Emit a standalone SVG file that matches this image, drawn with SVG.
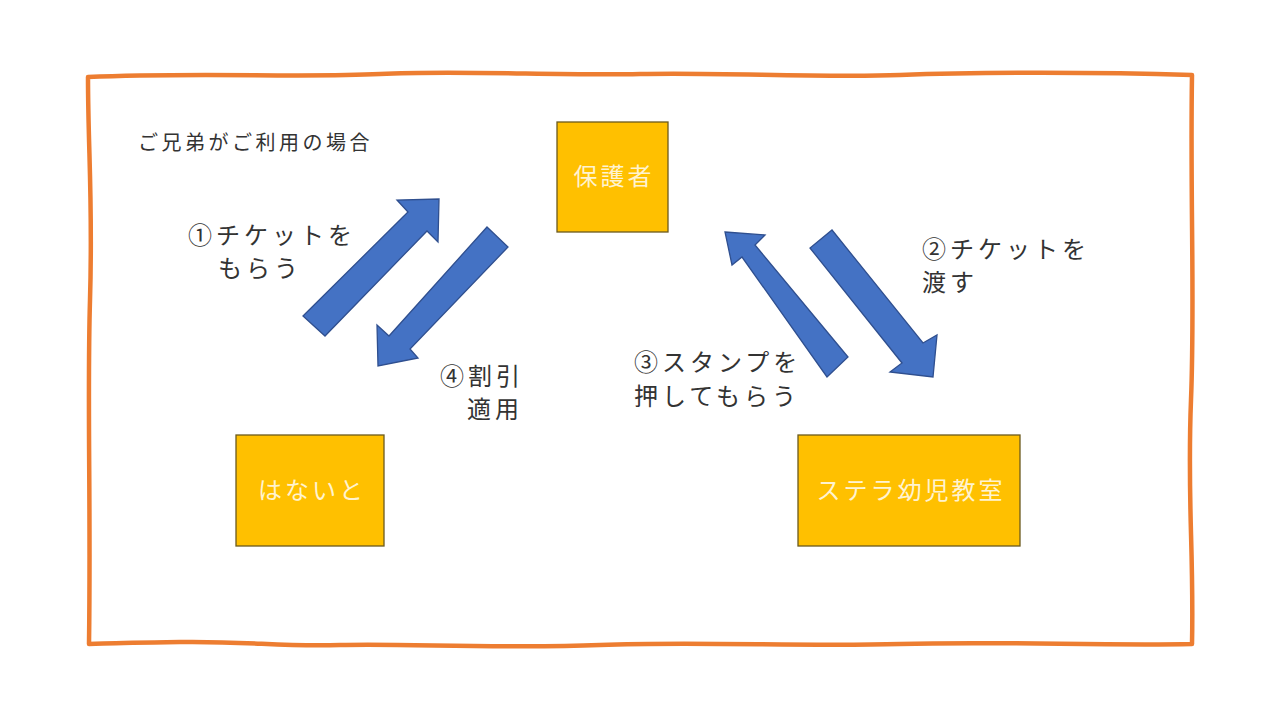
<svg xmlns="http://www.w3.org/2000/svg" width="1280" height="720" viewBox="0 0 1280 720">
<style>
.lbl{font-family:"Noto Sans CJK JP","Noto Sans CJK SC",sans-serif;font-size:24px;fill:#333;letter-spacing:4px}
.title{font-family:"Noto Sans CJK JP","Noto Sans CJK SC",sans-serif;font-size:20px;fill:#333;letter-spacing:3.5px}
.box{fill:#FFC000;stroke:#6B5A1E;stroke-width:1.3}
.btxt{font-family:"Noto Sans CJK JP","Noto Sans CJK SC",sans-serif;font-size:24px;fill:#FFF3D0;text-anchor:middle;letter-spacing:3px}
.arr{fill:#4472C4;stroke:#2F4F8F;stroke-width:1.3;stroke-linejoin:miter}
</style>
<rect width="1280" height="720" fill="#fff"/>
<path id="frame" d="M88,77 C200,72 300,78 380,74 S560,76 640,74 S820,78 900,75 S1100,72 1192,75 C1190,200 1195,300 1191,400 S1194,550 1192,644 C1100,646 1000,641 900,644 S700,641 600,645 S400,643 340,645 S250,641 180,642 S120,643 89,644 C91,500 87,400 90,300 S88,150 88,77 Z" fill="none" stroke="#ED7D31" stroke-width="4.5" stroke-linejoin="round"/>
<text class="title" x="138" y="150">ご兄弟がご利用の場合</text>
<g id="connectors">
<polygon class="arr" points="303,316 408,212 397,200 439,199 438,242 427,231 325,336"/>
<polygon class="arr" points="487,227 508,247 410,349 418,358 378,366 377,325 389,336"/>
<polygon class="arr" points="725,232 765,235 755,245 848,357 827,377 742,257 732,265"/>
<polygon class="arr" points="832,230 923,343 937,335 933,377 890,372 902,363 810,248"/>
</g>
<g id="label1"><text class="lbl" x="188" y="244">①チケットを</text><text class="lbl" x="218" y="277">もらう</text></g>
<g id="label2"><text class="lbl" x="922" y="258">②チケットを</text><text class="lbl" x="922" y="291">渡す</text></g>
<g id="label3"><text class="lbl" x="634" y="371">③スタンプを</text><text class="lbl" x="634" y="405">押してもらう</text></g>
<g id="label4"><text class="lbl" x="440" y="385">④割引</text><text class="lbl" x="467" y="418">適用</text></g>
<g id="hogosha"><rect class="box" x="557" y="122" width="111" height="110"/><text class="btxt" x="614" y="185">保護者</text></g>
<g id="hanaito"><rect class="box" x="236" y="435" width="148" height="111"/><text class="btxt" x="312" y="499">はないと</text></g>
<g id="stella"><rect class="box" x="798" y="435" width="222" height="111"/><text class="btxt" x="911" y="499">ステラ幼児教室</text></g>
</svg>
